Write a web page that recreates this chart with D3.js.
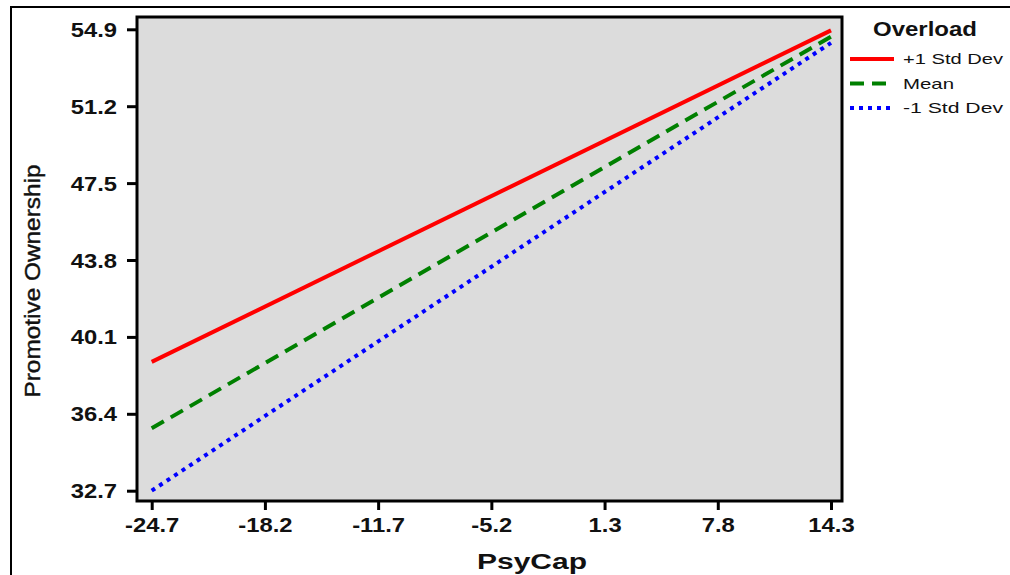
<!DOCTYPE html>
<html><head><meta charset="utf-8">
<script src="https://cdn.jsdelivr.net/npm/d3@7"></script>
<style>body{margin:0;background:#fff;}svg{display:block;}</style>
</head><body>
<script>
const xTicks = [-24.7, -18.2, -11.7, -5.2, 1.3, 7.8, 14.3];
const yTicks = [32.7, 36.4, 40.1, 43.8, 47.5, 51.2, 54.9];
const seriesNames = ["+1 Std Dev", "Mean", "-1 Std Dev"];
const xEnds = [-24.7, 14.3];
const highValues = [38.9, 54.85];
const meanValues = [35.7, 54.55];
const lowValues = [32.7, 54.25];

const W = 1010, H = 575;
const svg = d3.select("body").append("svg").attr("width", W).attr("height", H);
const font = "'Liberation Sans', Arial, sans-serif";
const stretch = 1.22;
const fmt = v => d3.format(".1f")(v).replace("\u2212", "-");

function widen(sel, factor) {
  sel.each(function() {
    const w = this.getComputedTextLength();
    d3.select(this).attr("textLength", w * factor).attr("lengthAdjust", "spacingAndGlyphs");
  });
}

// outer frame
svg.append("rect").attr("x", 11).attr("y", 7).attr("width", 1010).attr("height", 600)
  .attr("fill", "none").attr("stroke", "#000").attr("stroke-width", 2);

const plot = {l: 137, t: 17, r: 842, b: 501};
const x = d3.scaleLinear().domain([-24.7, 14.3]).range([151.7, 831]);
const y = d3.scaleLinear().domain([32.7, 54.9]).range([490.7, 29.3]);

svg.append("rect").attr("x", plot.l).attr("y", plot.t)
  .attr("width", plot.r - plot.l).attr("height", plot.b - plot.t)
  .attr("fill", "#dcdcdc").attr("stroke", "#000").attr("stroke-width", 3);

const xAxis = svg.append("g").attr("transform", `translate(0,${plot.b})`)
  .call(d3.axisBottom(x).tickValues(xTicks).tickFormat(fmt).tickSize(9));
const yAxis = svg.append("g").attr("transform", `translate(${plot.l},0)`)
  .call(d3.axisLeft(y).tickValues(yTicks).tickFormat(fmt).tickSize(10));
[xAxis, yAxis].forEach(a => {
  a.select(".domain").remove();
  a.selectAll(".tick line").attr("stroke", "#000").attr("stroke-width", 3);
  a.selectAll(".tick text").attr("fill", "#111").style("font-family", font)
    .style("font-size", "19.5px").style("font-weight", "bold");
});
xAxis.selectAll(".tick text").attr("y", 31).attr("dy", null);
yAxis.selectAll(".tick text").attr("x", -20).attr("dy", "0.36em");
widen(xAxis.selectAll(".tick text"), stretch);
widen(yAxis.selectAll(".tick text"), stretch);

const series = [
  {name: seriesNames[0], vals: highValues, color: "#ff0000", dash: null},
  {name: seriesNames[1], vals: meanValues, color: "#008000", dash: "14,8"},
  {name: seriesNames[2], vals: lowValues, color: "#0000ff", dash: "4,5"}
];
const line = d3.line().x(d => x(d[0])).y(d => y(d[1]));
series.forEach(s => {
  svg.append("path").datum(xEnds.map((xv, i) => [xv, s.vals[i]]))
    .attr("d", line).attr("fill", "none").attr("stroke", s.color)
    .attr("stroke-width", 4).attr("stroke-dasharray", s.dash);
});

// axis titles
svg.append("text").attr("x", 532).attr("y", 569).attr("text-anchor", "middle")
  .style("font-family", font).style("font-size", "22px").style("font-weight", "bold")
  .attr("fill", "#111").attr("textLength", 110).attr("lengthAdjust", "spacingAndGlyphs")
  .text("PsyCap");
svg.append("text").attr("transform", "translate(40,281) rotate(-90)").attr("text-anchor", "middle")
  .style("font-family", font).style("font-size", "22px").attr("fill", "#111")
  .attr("stroke", "#111").attr("stroke-width", 0.4)
  .attr("textLength", 233).attr("lengthAdjust", "spacingAndGlyphs")
  .text("Promotive Ownership");

// legend
svg.append("text").attr("x", 873).attr("y", 36)
  .style("font-family", font).style("font-size", "19.5px").style("font-weight", "bold")
  .attr("fill", "#111").attr("textLength", 104).attr("lengthAdjust", "spacingAndGlyphs")
  .text("Overload");
const legendLens = [100, 51, 100];
series.forEach((s, i) => {
  const ly = 59 + i * 24.5;
  svg.append("line").attr("x1", 850).attr("x2", 894).attr("y1", ly).attr("y2", ly)
    .attr("stroke", s.color).attr("stroke-width", 4).attr("stroke-dasharray", s.dash);
  svg.append("text").attr("x", 903).attr("y", ly + 5)
    .style("font-family", font).style("font-size", "15px").attr("fill", "#111")
    .attr("textLength", legendLens[i]).attr("lengthAdjust", "spacingAndGlyphs")
    .text(s.name);
});
</script>
</body></html>
